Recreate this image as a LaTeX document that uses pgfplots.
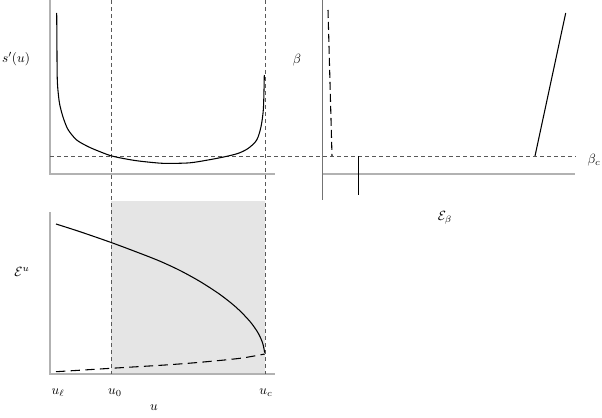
\documentclass[border=0pt]{standalone}
\usepackage{pgfplots}
\pgfplotsset{compat=1.18}

\colorlet{axgray}{black!30}
\colorlet{refgray}{black!65}

\begin{document}
\begin{tikzpicture}
\begin{axis}[
    scale only axis,
    width=451.5pt, height=312.75pt,
    xmin=0, xmax=602, ymin=0, ymax=417,
    y dir=reverse,
    hide axis,
    clip=false,
    every node/.append style={font=\fontsize{11}{13}\selectfont},
]
% shaded band u_0 .. u_c
\addplot[fill=gray!20, draw=none] coordinates {(111,201) (265,201) (265,374) (111,374) (111,201)};

% axis frames
\addplot[axgray, line width=1.5pt] coordinates {(50,0) (50,174) (275,174)};
\addplot[axgray, line width=1.5pt] coordinates {(50,212) (50,374) (275,374)};
\addplot[axgray, line width=1.5pt] coordinates {(322,174) (575,174)};
\addplot[black!55, line width=0.6pt] coordinates {(322,0) (322,200)};

% reference lines
\addplot[refgray, line width=0.5pt, dash pattern=on 3pt off 2.25pt] coordinates {(111,0) (111,374)};
\addplot[refgray, line width=0.5pt, dash pattern=on 3pt off 2.25pt] coordinates {(265,0) (265,374)};
\addplot[refgray, line width=0.5pt, dash pattern=on 3pt off 2.25pt] coordinates {(50,156) (576,156)};

% s'(u)
\addplot[black, line width=0.8pt, smooth] coordinates {
(56.7,13) (56.9,40) (57.3,80) (59,100) (61,110) (64,120) (68.3,130) (76.7,140)
(88.3,146.7) (100,151.7) (113,156.3) (135,160.5) (158,163) (170,163.4) (190,162.8)
(208,160) (225,156.7) (238.3,153.3) (248.3,148.3) (256.7,140) (261,126.7)
(263.3,110) (264,90) (264.3,75)};

% E^u branches
\addplot[black, line width=0.8pt, smooth] coordinates {
(56,224) (80,231.7) (111.7,242.7) (140,253.3) (160,261.2) (180,270.5) (200,281.5)
(220,294.5) (236.7,307.8) (250,321.5) (258.3,333.3) (262.7,343.3) (264.7,352.7)};
\addplot[black, line width=0.8pt, dash pattern=on 7pt off 4pt, smooth] coordinates {
(56,371.7) (111,368.3) (165,365) (200,362.3) (240,358.3) (264.7,354)};

% beta panel
\addplot[black, line width=0.8pt, dash pattern=on 6pt off 3pt] coordinates {(328,10) (332,156)};
\addplot[black, line width=0.8pt] coordinates {(535,156) (565.7,13)};
\addplot[black, line width=0.6pt] coordinates {(358,156) (358,195)};

% labels
\node at (axis cs:16,59) {$s'(u)$};
\node at (axis cs:297,60) {$\beta$};
\node at (axis cs:594,160) {$\beta_c$};
\node at (axis cs:445,218) {$\mathcal{E}_\beta$};
\node at (axis cs:22,272) {$\mathcal{E}^u$};
\node at (axis cs:58,393) {$u_\ell$};
\node at (axis cs:115,393) {$u_0$};
\node at (axis cs:266,393) {$u_c$};
\node at (axis cs:154,408) {$u$};
\end{axis}
\pgfresetboundingbox
\path (0,0) rectangle (451.5pt,312.75pt);
\end{tikzpicture}
\end{document}
